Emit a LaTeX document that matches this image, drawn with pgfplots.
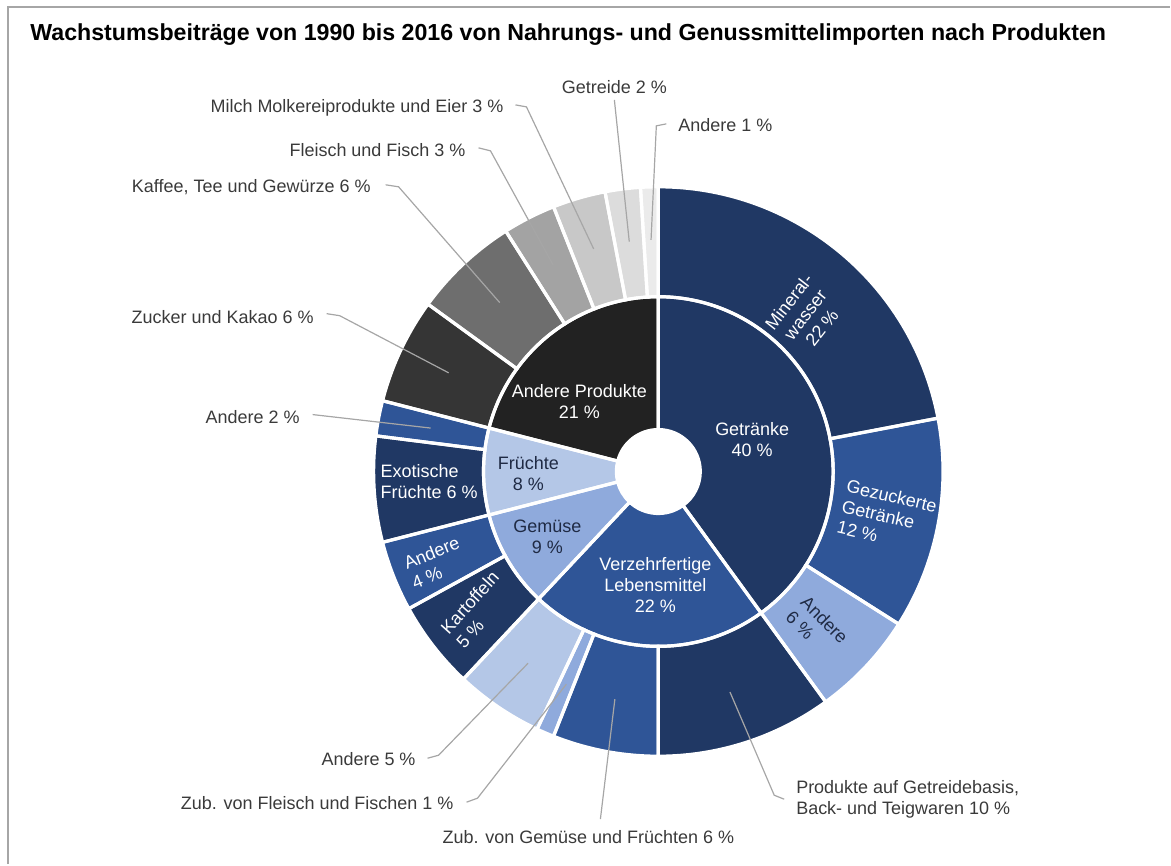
\documentclass[border=0pt]{standalone}
\usepackage{pgfplots}
\pgfplotsset{compat=1.18}
\usepackage{pgfplotstable}
\usepackage{fontspec}
\setmainfont{Liberation Sans}

\definecolor{navy}{HTML}{203864}
\definecolor{mblue}{HTML}{2F5597}
\definecolor{lblue}{HTML}{8FAADC}
\definecolor{vlblue}{HTML}{B4C7E7}
\definecolor{blk}{HTML}{222222}
\definecolor{gZ}{HTML}{353535}
\definecolor{gK}{HTML}{6E6E6E}
\definecolor{gF}{HTML}{A3A3A3}
\definecolor{gM}{HTML}{C8C8C8}
\definecolor{gG}{HTML}{DCDCDC}
\definecolor{gA}{HTML}{EBEBEB}
\definecolor{lbl}{HTML}{3A3A3A}
\definecolor{lead}{HTML}{A6A6A6}
\definecolor{dtxt}{HTML}{1F2A44}

% inner ring (main groups), percent
\pgfplotstableread{
value color
40 navy
22 mblue
9  lblue
8  vlblue
21 blk
}\innerring

% outer ring (products), percent
\pgfplotstableread{
value color
22 navy
12 mblue
6  lblue
10 navy
6  mblue
1  lblue
5  vlblue
5  navy
4  mblue
6  navy
2  mblue
6  gZ
6  gK
3  gF
3  gM
2  gG
1  gA
}\outerring

\newcommand{\ringpass}[4]{% table, r_in, r_out, mode (0 fill, 1 stroke)
  \pgfplotstablegetrowsof{#1}\pgfmathtruncatemacro\nrows{\pgfplotsretval-1}%
  \gdef\acc{0}%
  \foreach \i in {0,...,\nrows}{%
    \pgfplotstablegetelem{\i}{value}\of{#1}\let\val\pgfplotsretval
    \pgfplotstablegetelem{\i}{color}\of{#1}\let\col\pgfplotsretval
    \pgfmathsetmacro\aA{90-3.6*\acc}%
    \pgfmathsetmacro\aB{90-3.6*(\acc+\val)}%
    \ifnum#4=0
      \fill[\col] (axis cs:{659+#2*cos(\aA)},{472-#2*sin(\aA)}) arc[start angle=\aA,end angle=\aB,radius=#2*0.5pt]
        -- (axis cs:{659+#3*cos(\aB)},{472-#3*sin(\aB)}) arc[start angle=\aB,end angle=\aA,radius=#3*0.5pt] -- cycle;
    \else
      \draw[white,line width=1.6pt] (axis cs:{659+#2*cos(\aA)},{472-#2*sin(\aA)}) arc[start angle=\aA,end angle=\aB,radius=#2*0.5pt]
        -- (axis cs:{659+#3*cos(\aB)},{472-#3*sin(\aB)}) arc[start angle=\aB,end angle=\aA,radius=#3*0.5pt] -- cycle;
    \fi
    \pgfmathsetmacro\newacc{\acc+\val}\xdef\acc{\newacc}%
  }%
}

\begin{document}
\begin{tikzpicture}[lf/.style={font=\fontsize{9}{10.5}\selectfont}]
\begin{axis}[
  scale only axis, width=585.5pt, height=432.5pt,
  xmin=0, xmax=1171, ymin=0, ymax=865, y dir=reverse,
  hide axis, clip=false,
]
\path (axis cs:0,0) rectangle (axis cs:1171,865);
% frame
\draw[gray!70, line width=1.2pt] (axis cs:8,865) -- (axis cs:8,7) -- (axis cs:1171,7);

\pgfplotsextra{%
  \ringpass{\innerring}{42}{175}{0}%
  \ringpass{\outerring}{175}{285}{0}%
  \ringpass{\innerring}{42}{175}{1}%
  \ringpass{\outerring}{175}{285}{1}%
}

% title
\node[anchor=base west, inner sep=0pt, font=\bfseries\fontsize{11.6}{13}\selectfont] at (axis cs:30,41)
  {Wachstumsbeiträge von 1990 bis 2016 von Nahrungs- und Genussmittelimporten nach Produkten};

% leader lines
\begin{scope}[lead, line width=0.6pt]
\draw (axis cs:615,100) -- (axis cs:629.9,241.8);
\draw (axis cs:667,124) -- (axis cs:657,126) -- (axis cs:651.7,240.1);
\draw (axis cs:516,105) -- (axis cs:527,107) -- (axis cs:594.3,249.2);
\draw (axis cs:479,148) -- (axis cs:491,151) -- (axis cs:553.7,265.3);
\draw (axis cs:386,185) -- (axis cs:399,187) -- (axis cs:500.2,302.9);
\draw (axis cs:327,314) -- (axis cs:340,316) -- (axis cs:449.1,373.2);
\draw (axis cs:313,415) -- (axis cs:431.1,428.5);
\draw (axis cs:428,759) -- (axis cs:439,756) -- (axis cs:528.6,663.9);
\draw (axis cs:467,803) -- (axis cs:478,799) -- (axis cs:566.9,684.9);
\draw (axis cs:601,820) -- (axis cs:615.5,699.9);
\draw (axis cs:785,800) -- (axis cs:775,796) -- (axis cs:730.7,692.7);
\end{scope}

% outside labels
\begin{scope}[lf, text=lbl]
\node at (axis cs:615,87) {Getreide 2 \%};
\node[anchor=west] at (axis cs:672,125) {Andere 1 \%};
\node[anchor=east] at (axis cs:511,108) {Milch Molkereiprodukte und Eier 3 \%};
\node[anchor=east] at (axis cs:473,150) {Fleisch und Fisch 3 \%};
\node[anchor=east] at (axis cs:378,187) {Kaffee, Tee und Gewürze 6 \%};
\node[anchor=east] at (axis cs:321,317) {Zucker und Kakao 6 \%};
\node[anchor=east] at (axis cs:307,417) {Andere 2 \%};
\node[anchor=east] at (axis cs:423,760) {Andere 5 \%};
\node[anchor=east] at (axis cs:461,804) {Zub. von Fleisch und Fischen 1 \%};
\node at (axis cs:589,838) {Zub. von Gemüse und Früchten 6 \%};
\node[anchor=west, align=left] at (axis cs:790,800) {Produkte auf Getreidebasis,\\Back- und Teigwaren 10 \%};
\end{scope}

% inner labels
\begin{scope}[lf]
\node[text=white, align=center] at (axis cs:753,440) {Getränke\\40 \%};
\node[text=white, align=center] at (axis cs:656,586) {Verzehrfertige\\Lebensmittel\\22 \%};
\node[text=dtxt, align=center] at (axis cs:548,537) {Gemüse\\9 \%};
\node[text=dtxt, align=center] at (axis cs:529,474) {Früchte\\8 \%};
\node[text=white, align=center] at (axis cs:580,402) {Andere Produkte\\21 \%};
\node[text=white, align=left, anchor=west] at (axis cs:374,482) {Exotische\\Früchte 6 \%};
\node[text=white, align=left, rotate=22, inner sep=0pt] at (axis cs:436,563) {Andere\\4 \%};
\node[text=white, align=left, rotate=48, inner sep=0pt] at (axis cs:478,610) {Kartoffeln\\5 \%};
\node[text=white, align=center, rotate=52, inner sep=0pt] at (axis cs:806,315) {Mineral-\\wasser\\22 \%};
\node[text=white, align=left, rotate=-13, inner sep=0pt] at (axis cs:888,517) {Gezuckerte\\Getränke\\12 \%};
\node[text=dtxt, align=left, rotate=-45, inner sep=0pt] at (axis cs:818,628) {Andere\\6 \%};
\end{scope}
\end{axis}
\end{tikzpicture}
\end{document}
